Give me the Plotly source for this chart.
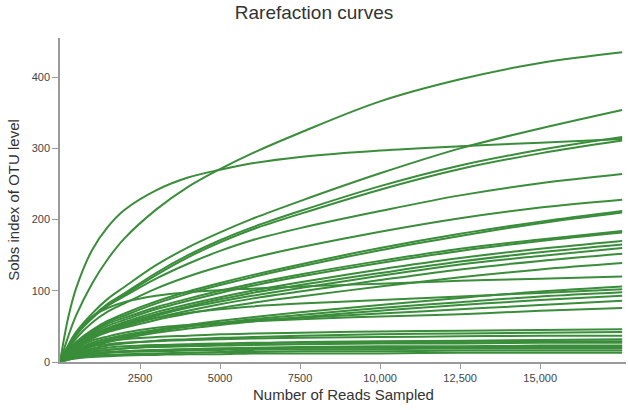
import plotly.graph_objects as go

READS = [0, 250, 500, 1000, 1500, 2000, 3000, 4000, 5000, 6000, 7500, 10000, 12500, 15000, 17560]

SAMPLE_A = [0, 35, 65, 110, 145, 173, 214, 246, 271, 293, 322, 366, 397, 420, 435]
SAMPLE_B = [0, 61, 103, 157, 190, 213, 241, 259, 270, 279, 288, 297, 303, 308, 313]
SAMPLE_C = [0, 23, 42, 68, 89, 105, 136, 161, 182, 201, 226, 265, 300, 328, 354]
SAMPLE_D1 = [0, 21, 39, 63, 82, 96, 125, 150, 171, 189, 212, 247, 276, 298, 316]
SAMPLE_D2 = [0, 20, 38, 61, 80, 94, 122, 147, 168, 186, 208, 242, 271, 293, 311]
SAMPLE_E = [0, 20, 37, 62, 79, 92, 117, 138, 156, 171, 188, 212, 234, 251, 264]
SAMPLE_F = [0, 18, 33, 55, 71, 82, 103, 120, 134, 146, 161, 183, 202, 217, 228]
SAMPLE_G1 = [0, 16, 28, 45, 58, 68, 85, 99, 111, 122, 137, 160, 180, 197, 212]
SAMPLE_G2 = [0, 15, 27, 43, 56, 65, 82, 96, 108, 119, 134, 157, 177, 195, 210]
SAMPLE_H1 = [0, 15, 26, 42, 54, 62, 77, 89, 100, 110, 123, 142, 159, 172, 184]
SAMPLE_H2 = [0, 14, 25, 40, 51, 59, 74, 86, 97, 107, 120, 139, 156, 170, 182]
SAMPLE_I = [0, 13, 23, 38, 48, 56, 70, 81, 91, 100, 112, 130, 146, 159, 170]
SAMPLE_J = [0, 13, 22, 36, 46, 54, 67, 78, 88, 97, 108, 125, 141, 154, 165]
SAMPLE_K = [0, 12, 21, 35, 45, 52, 65, 76, 85, 93, 104, 121, 137, 149, 160]
SAMPLE_L = [0, 12, 20, 34, 43, 50, 62, 72, 81, 89, 99, 115, 130, 142, 152]
SAMPLE_M = [0, 11, 19, 33, 42, 48, 59, 68, 76, 83, 92, 106, 119, 130, 139]
SAMPLE_N = [0, 22, 40, 64, 76, 84, 93, 98, 101, 103, 106, 110, 114, 117, 120]
SAMPLE_P1 = [0, 8, 15, 24, 31, 36, 45, 52, 58, 63, 70, 80, 90, 99, 106]
SAMPLE_P2 = [0, 13, 23, 36, 45, 52, 62, 69, 74, 78, 82, 87, 92, 97, 102]
SAMPLE_P3 = [0, 7, 13, 22, 29, 34, 43, 50, 55, 60, 66, 76, 84, 92, 98]
SAMPLE_P4 = [0, 7, 13, 22, 28, 33, 41, 47, 52, 57, 63, 72, 80, 87, 93]
SAMPLE_P5 = [0, 9, 17, 27, 33, 38, 45, 50, 54, 58, 62, 68, 74, 80, 86]
SAMPLE_P6 = [0, 10, 19, 30, 36, 41, 48, 52, 55, 57, 60, 64, 67, 72, 76]
SAMPLE_Q1 = [0, 10, 17, 25, 29, 32, 35, 37, 39, 40, 41, 43, 44, 45, 46]
SAMPLE_Q2 = [0, 7, 12, 19, 23, 26, 30, 32, 34, 35, 37, 39, 40, 41, 42]
SAMPLE_Q3 = [0, 9, 15, 22, 25, 27, 29, 31, 32, 33, 34, 35, 36, 37, 37]
SAMPLE_Q4 = [0, 5, 9, 14, 17, 19, 22, 24, 25, 26, 28, 29, 30, 31, 32]
SAMPLE_Q5 = [0, 6, 11, 17, 20, 22, 24, 25, 26, 27, 27, 28, 28, 29, 29]
SAMPLE_Q6 = [0, 6, 10, 15, 17, 19, 21, 22, 23, 24, 25, 26, 26, 27, 27]
SAMPLE_Q7 = [0, 4, 7, 11, 13, 15, 17, 18, 19, 20, 21, 22, 22, 23, 23]
SAMPLE_Q8 = [0, 5, 8, 12, 14, 15, 17, 18, 19, 19, 20, 20, 21, 21, 21]
SAMPLE_Q9 = [0, 5, 8, 11, 13, 14, 15, 16, 17, 17, 18, 18, 19, 19, 19]
SAMPLE_Q10 = [0, 3, 6, 9, 10, 11, 12, 13, 14, 14, 15, 15, 16, 16, 16]
SAMPLE_Q11 = [0, 3, 5, 7, 8, 9, 10, 11, 11, 12, 12, 12, 13, 13, 13]

SERIES = [SAMPLE_A, SAMPLE_B, SAMPLE_C, SAMPLE_D1, SAMPLE_D2, SAMPLE_E, SAMPLE_F,
          SAMPLE_G1, SAMPLE_G2, SAMPLE_H1, SAMPLE_H2, SAMPLE_I, SAMPLE_J, SAMPLE_K,
          SAMPLE_L, SAMPLE_M, SAMPLE_N, SAMPLE_P1, SAMPLE_P2, SAMPLE_P3, SAMPLE_P4,
          SAMPLE_P5, SAMPLE_P6, SAMPLE_Q1, SAMPLE_Q2, SAMPLE_Q3, SAMPLE_Q4, SAMPLE_Q5,
          SAMPLE_Q6, SAMPLE_Q7, SAMPLE_Q8, SAMPLE_Q9, SAMPLE_Q10, SAMPLE_Q11]

X_TICKS = [2500, 5000, 7500, 10000, 12500, 15000]
X_TICK_TEXT = ["2500", "5000", "7500", "10,000", "12,500", "15,000"]
Y_TICKS = [0, 100, 200, 300, 400]

LINE_COLOR = "#3a8d3a"
AXIS_COLOR = "#9a9a9a"
FONT = "Liberation Sans, Arial, sans-serif"

fig = go.Figure()
for ys in SERIES:
    fig.add_trace(go.Scatter(
        x=READS, y=ys, mode="lines",
        line=dict(color=LINE_COLOR, width=2, shape="spline", smoothing=1.0),
        showlegend=False, hoverinfo="skip",
    ))

fig.update_layout(
    width=628, height=410,
    margin=dict(l=60, r=2, t=38, b=48),
    paper_bgcolor="white", plot_bgcolor="white",
    font=dict(family=FONT, color="#444"),
    title=dict(text="Rarefaction curves", x=0.5, xanchor="center", y=0.985, yanchor="top",
               font=dict(size=19, color="#333", family=FONT)),
    annotations=[dict(text="Number of Reads Sampled", xref="paper", yref="paper",
                      x=0.5, y=-0.1, xanchor="center", yanchor="middle", showarrow=False,
                      font=dict(size=15, color="#333", family=FONT))],
)
fig.update_xaxes(
    range=[0, 17680], tickvals=X_TICKS, ticktext=X_TICK_TEXT,
    showline=True, linecolor=AXIS_COLOR, linewidth=1.5, ticks="outside", ticklen=5,
    tickcolor=AXIS_COLOR, tickwidth=1.2, showgrid=False, zeroline=False,
    tickfont=dict(size=11, color="#444", family=FONT), automargin=False,
)
fig.update_yaxes(
    range=[0, 455], tickvals=Y_TICKS,
    showline=True, linecolor=AXIS_COLOR, linewidth=1.5, ticks="outside", ticklen=6,
    tickcolor=AXIS_COLOR, tickwidth=1.2, showgrid=False, zeroline=False,
    tickfont=dict(size=11, color="#444", family=FONT), automargin=False,
    title=dict(text="Sobs index of OTU level", font=dict(size=15, color="#333", family=FONT), standoff=8),
)

fig.write_html("out.html", config={"displayModeBar": False},
               post_script="document.body.style.margin='0';")
